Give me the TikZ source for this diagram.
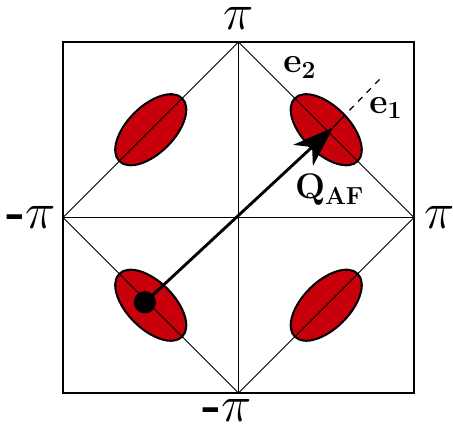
\documentclass[tikz,border=0pt]{standalone}
\usepackage{amsmath,amssymb,bm}
\usepackage{xcolor}
\usepackage{tikz}
\usetikzlibrary{arrows.meta,positioning,shapes.geometric}
\definecolor{pocketred}{RGB}{200,0,12}

\begin{document}
\begin{tikzpicture}[font=\Huge,
      frm/.style={line width=1.2pt},
      bz/.style={line width=0.5pt},
      pocket/.style={ellipse, draw, fill=pocketred, line width=1pt,
                     minimum width=1.52cm, minimum height=0.8cm, inner sep=0pt},
      lbl/.style={inner sep=0pt}]
    \useasboundingbox (-4.077,-3.598) rectangle (3.667,3.718);
    % frame and zone corners
    \coordinate (top) at (0,3);
    \coordinate (bot) at (0,-3);
    \coordinate (lft) at (-3,0);
    \coordinate (rgt) at (3,0);
    \draw[frm] (-3,-3) rectangle (3,3);
    % pockets
    \node[pocket, rotate=45] (pul) at (-1.5, 1.5) {};
    \node[pocket, rotate=-45] (pur) at (1.5, 1.5) {};
    \node[pocket, rotate=-45] (pll) at (-1.5, -1.5) {};
    \node[pocket, rotate=45] (plr) at (1.5, -1.5) {};
    % zone boundary
    \draw[bz] (top) -- (rgt) -- (bot) -- (lft) -- cycle;
    \draw[bz] (top) -- (bot);
    \draw[bz] (lft) -- (rgt);
    % nesting vector
    \node[circle, fill=black, minimum size=0.38cm, inner sep=0pt] (dot) at (-1.6, -1.45) {};
    \coordinate (qtip) at (1.62, 1.54);
    \coordinate (e1a) at (1.75, 1.68);
    \coordinate (e1b) at (2.45, 2.4);
    \draw[line width=1.4pt, -{Stealth[length=20pt, width=14pt, inset=6pt]}] (dot.center) -- (qtip);
    \draw[line width=0.6pt] (qtip) -- (e1a);
    \draw[line width=0.6pt, dashed] (e1a) -- (e1b);
    % labels
    \node[lbl] (pit) at (0, 3.40) {$\pi$};
    \node[lbl] (pib) at (-0.2, -3.3) {\textbf{-}$\pi$};
    \node[lbl] (pil) at (-3.55, 0) {\textbf{-}$\pi$};
    \node[lbl] (pir) at (3.44, 0) {$\pi$};
    \node[lbl, font=\LARGE] (e2) at (1.05, 2.56) {$\mathbf{e_2}$};
    \node[lbl, font=\LARGE] (e1) at (2.52, 1.87) {$\mathbf{e_1}$};
    \node[lbl, font=\LARGE] (qaf) at (1.56, 0.47) {$\mathbf{Q_{AF}}$};
  \end{tikzpicture}
\end{document}
